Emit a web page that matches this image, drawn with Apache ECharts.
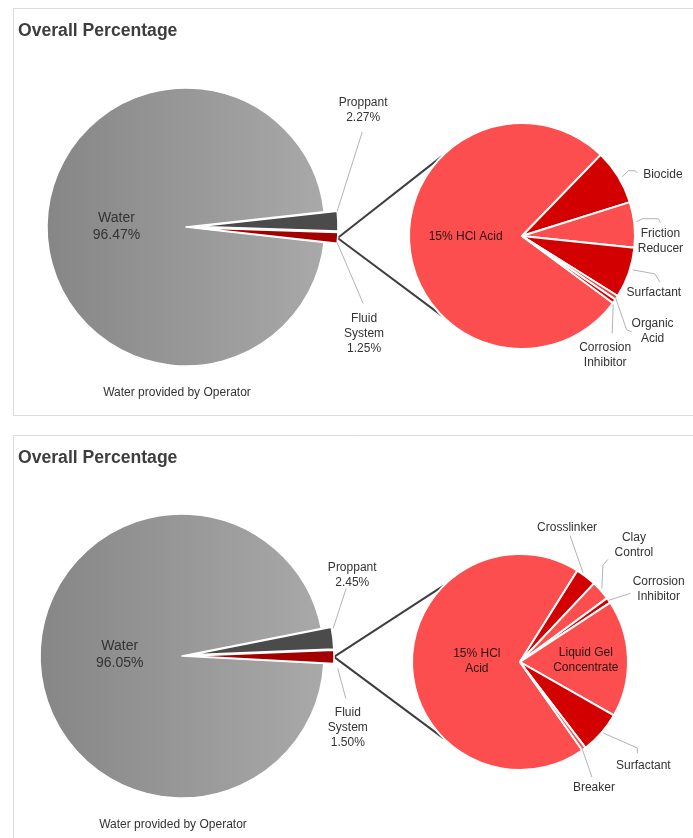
<!DOCTYPE html>
<html>
<head>
<meta charset="utf-8">
<script src="https://cdn.jsdelivr.net/npm/echarts@6/dist/echarts.min.js"></script>
<style>
  html, body { margin: 0; padding: 0; background: #ffffff; }
  #chart { width: 693px; height: 838px; }
</style>
</head>
<body>
<div id="chart"></div>
<script>
// ---- Data -------------------------------------------------------------
const mainNames = ['Proppant', 'Fluid System', 'Water'];
const topMainValues = [2.27, 1.25, 96.47];
const bottomMainValues = [2.45, 1.50, 96.05];

const topDetailNames = ['15% HCl Acid', 'Biocide', 'Friction Reducer', 'Surfactant', 'Organic Acid', 'Corrosion Inhibitor'];
const topDetailValues = [77.15, 7.9, 6.5, 7.25, 0.6, 0.6];

const bottomDetailNames = ['15% HCl Acid', 'Crosslinker', 'Clay Control', 'Corrosion Inhibitor', 'Liquid Gel Concentrate', 'Surfactant', 'Breaker'];
const bottomDetailValues = [68.7, 3.1, 2.9, 0.8, 17.5, 6.4, 0.6];

const panelTitle = 'Overall Percentage';
const waterCaption = 'Water provided by Operator';

// ---- Styling ----------------------------------------------------------
const FONT = '"Liberation Sans", Arial, sans-serif';
const LIGHT_RED = '#fc4e4e';
const DARK_RED = '#d30000';
const waterFill = {
  type: 'linear', x: 0, y: 0, x2: 1, y2: 0,
  colorStops: [{ offset: 0, color: '#868686' }, { offset: 1, color: '#a9a9a9' }]
};
const mainColors = ['#4b4b4b', '#a30000', waterFill];
const topDetailColors = [LIGHT_RED, DARK_RED, LIGHT_RED, DARK_RED, '#f04040', DARK_RED];
const bottomDetailColors = [LIGHT_RED, DARK_RED, LIGHT_RED, DARK_RED, LIGHT_RED, DARK_RED, LIGHT_RED];
const HIDDEN = 'rgba(0,0,0,0)';

const wrapText = {
  'Fluid System': 'Fluid\nSystem',
  'Friction Reducer': 'Friction\nReducer',
  'Organic Acid': 'Organic\nAcid',
  'Corrosion Inhibitor': 'Corrosion\nInhibitor',
  'Clay Control': 'Clay\nControl',
  'Liquid Gel Concentrate': 'Liquid Gel\nConcentrate'
};

// Pie geometry (pixels) and label guides for each of the four pies.
// Guide paths / label offsets are relative to the slice's outer edge point.
const pies = [
  { // top panel, overall
    names: mainNames, values: topMainValues, colors: mainColors,
    center: [186, 227], r: 139, start: 6.3, explode: [true, true, false], offset: 13,
    percent: true, wrap: {}, border: 1.5,
    guides: [
      { at: 0, path: [[0, 0], [25, -79]], label: [26, -101] },
      { at: 1, path: [[0, -1], [26, 60]], label: [27, 90] },
      { inside: 0.5, dy: 0, size: 14, lh: 17 }
    ]
  },
  { // top panel, fluid system breakdown
    names: topDetailNames, values: topDetailValues, colors: topDetailColors,
    center: [522, 236], r: 113, start: -36.4, explode: [], offset: 0,
    percent: false, wrap: {}, border: 2,
    guides: [
      { inside: 0.5, dy: -4 },
      { at: 0.5, path: [[4, 0], [10, -6], [17, -6], [19, -4]], label: [25, -2], align: 'left' },
      { at: 0.5, path: [[2, -3], [8, -6], [24, -6], [26, -2]], label: [26, 16] },
      { at: 0.5, path: [[4, -3], [26, 1], [31, 9]], label: [25, 20] },
      { at: 0.5, path: [[-1, 0], [10, 32], [15, 34]], label: [36, 33] },
      { at: 0.5, path: [[-1, 3], [-2, 32]], label: [-9, 54] }
    ]
  },
  { // bottom panel, overall
    names: mainNames, values: bottomMainValues, colors: mainColors,
    center: [182, 656], r: 142, start: 11.2, explode: [true, true, false], offset: 10,
    percent: true, wrap: {}, border: 1.5,
    guides: [
      { at: 0, path: [[2, 1], [15, -39]], label: [21, -52] },
      { at: 1, path: [[4, 5], [12, 35]], label: [14, 64] },
      { inside: 0.44, dy: -6, size: 14, lh: 17 }
    ]
  },
  { // bottom panel, fluid system breakdown
    names: bottomDetailNames, values: bottomDetailValues, colors: bottomDetailColors,
    center: [520, 662], r: 108, start: -54.8, explode: [], offset: 0,
    percent: false, wrap: { '15% HCl Acid': '15% HCl\nAcid' }, border: 2,
    guides: [
      { inside: 0.4, dy: -2 },
      { at: 0.5, path: [[-3, -4], [-16, -41]], label: [-19, -49] },
      { at: 0.5, path: [[1, -2], [2, -25], [7, -31]], label: [33, -45] },
      { at: 0.5, path: [[0, 0], [22, -7]], label: [50, -11] },
      { inside: 0.61, dy: 0 },
      { at: 0.5, path: [[2, 0], [36, 15], [36, 20]], label: [42, 33] },
      { at: 0.5, path: [[-2, -1], [8, 28]], label: [10, 39] }
    ]
  }
];

// ---- Geometry helpers -------------------------------------------------
const rad = d => d * Math.PI / 180;

function sliceAngles(pie, idx) {
  const total = pie.values.reduce((a, b) => a + b, 0);
  let cum = 0;
  for (let i = 0; i < idx; i++) cum += pie.values[i];
  const a0 = pie.start - 360 * cum / total;
  const a1 = a0 - 360 * pie.values[idx] / total;
  return { a0, a1, mid: (a0 + a1) / 2 };
}

// Offset of a pulled-out slice's apex from the pie centre.
function explodeShift(pie, idx) {
  if (!pie.explode[idx]) return [0, 0];
  const { mid } = sliceAngles(pie, idx);
  return [pie.offset * Math.cos(rad(mid)), -pie.offset * Math.sin(rad(mid))];
}

// Point on a slice at angular fraction `frac` and given radius, including explode shift.
function slicePoint(pie, idx, frac, radius) {
  const { a0, a1 } = sliceAngles(pie, idx);
  const s = explodeShift(pie, idx);
  const a = a0 + (a1 - a0) * frac;
  return [
    pie.center[0] + s[0] + radius * Math.cos(rad(a)),
    pie.center[1] + s[1] - radius * Math.sin(rad(a))
  ];
}

function labelPlacement(pie, idx) {
  const g = pie.guides[idx];
  if (g.inside != null) {
    const { mid } = sliceAngles(pie, idx);
    return {
      x: pie.center[0] + g.inside * pie.r * Math.cos(rad(mid)),
      y: pie.center[1] - g.inside * pie.r * Math.sin(rad(mid)) + (g.dy || 0),
      align: 'center', verticalAlign: 'middle'
    };
  }
  const p = slicePoint(pie, idx, g.at, pie.r);
  return { x: p[0] + g.label[0], y: p[1] + g.label[1], align: g.align || 'center', verticalAlign: 'middle' };
}

// ---- Series -----------------------------------------------------------
// Each pie is drawn by one series; every pulled-out slice gets its own
// series with a shifted centre, its place in the base series left empty.
function pieSeries(pie, visible, centerShift) {
  return {
    type: 'pie',
    silent: true,
    center: [pie.center[0] + centerShift[0], pie.center[1] + centerShift[1]],
    radius: [0, pie.r],
    startAngle: pie.start,
    clockwise: true,
    avoidLabelOverlap: false,
    minShowLabelAngle: 0,
    itemStyle: { borderColor: '#ffffff', borderWidth: pie.border },
    label: {
      show: true,
      position: 'outside',
      fontFamily: FONT,
      fontSize: 12,
      lineHeight: 15,
      color: '#333333',
      formatter: p => {
        const txt = pie.wrap[p.name] || wrapText[p.name] || p.name;
        return pie.percent ? txt + '\n' + p.value.toFixed(2) + '%' : txt;
      }
    },
    labelLine: { show: false },
    labelLayout: params => labelPlacement(pie, params.dataIndex),
    data: pie.names.map((n, i) => {
      const g = pie.guides[i];
      const on = visible(i);
      const item = {
        name: n,
        value: pie.values[i],
        itemStyle: on ? { color: pie.colors[i] } : { color: HIDDEN, borderWidth: 0 },
        label: on ? {} : { show: false }
      };
      if (on && g.size) item.label = { fontSize: g.size, lineHeight: g.lh };
      if (on && g.inside != null && !g.size) item.label = { color: '#2a1414' };
      return item;
    })
  };
}

const series = [];
pies.forEach(pie => {
  series.push(pieSeries(pie, i => !pie.explode[i], [0, 0]));
  pie.names.forEach((n, k) => {
    if (pie.explode[k]) series.push(pieSeries(pie, i => i === k, explodeShift(pie, k)));
  });
});

// ---- Graphics: panels, titles, connectors, leader lines ----------------
const graphics = [];
const panelTops = [8, 435];
const panelHeights = [407, 460];
panelTops.forEach((t, k) => {
  graphics.push({
    type: 'rect', z: 0,
    shape: { x: 13.5, y: t + 0.5, width: 700, height: panelHeights[k] },
    style: { fill: '#ffffff', stroke: '#dcdcdc', lineWidth: 1 }
  });
  graphics.push({
    type: 'text', z: 10, x: 18, y: t + 23,
    style: { text: panelTitle, font: 'bold 17.6px ' + FONT, fill: '#3d3d3d', verticalAlign: 'middle' }
  });
});

// captions under the overall pies
[pies[0], pies[2]].forEach(p => {
  graphics.push({
    type: 'text', z: 10, x: p.center[0] - 9, y: p.center[1] + p.r + 27,
    style: { text: waterCaption, font: '12px ' + FONT, fill: '#333333', align: 'center', verticalAlign: 'middle' }
  });
});

// connectors from the fluid-system slice to the breakdown pie
[[pies[0], pies[1]], [pies[2], pies[3]]].forEach(([m, d]) => {
  const tip = slicePoint(m, 1, 0.5, m.r);
  [135, 225].forEach(a => {
    graphics.push({
      type: 'line', z: 1,
      shape: {
        x1: tip[0], y1: tip[1],
        x2: d.center[0] + d.r * Math.cos(rad(a)),
        y2: d.center[1] - d.r * Math.sin(rad(a))
      },
      style: { stroke: '#3f3f3f', lineWidth: 2 }
    });
  });
});

// leader lines
pies.forEach(pie => {
  pie.guides.forEach((g, i) => {
    if (!g.path) return;
    const p = slicePoint(pie, i, g.at, pie.r);
    graphics.push({
      type: 'polyline', z: 5,
      shape: { points: g.path.map(o => [p[0] + o[0], p[1] + o[1]]) },
      style: { stroke: '#b3b3b3', lineWidth: 1, fill: null }
    });
  });
});

const chart = echarts.init(document.getElementById('chart'), null, { renderer: 'canvas' });
chart.setOption({
  animation: false,
  backgroundColor: '#ffffff',
  graphic: { elements: graphics },
  series: series
});
</script>
</body>
</html>
